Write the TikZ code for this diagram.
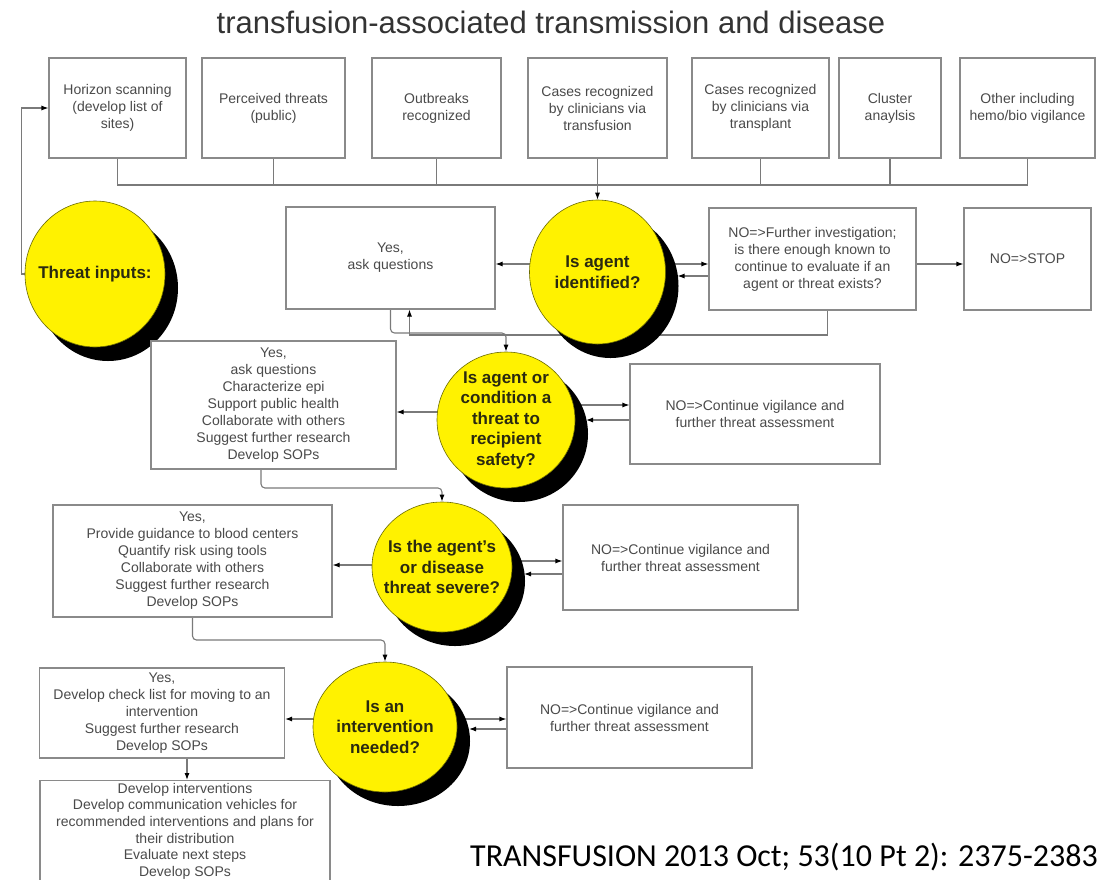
\documentclass[tikz,border=0pt]{standalone}
\usepackage{fontspec}
\setmainfont{Liberation Sans}
\newfontfamily\capfont{Carlito}
\usetikzlibrary{shapes.geometric,shadows,arrows.meta}
\pgfdeclarelayer{back}
\pgfdeclarelayer{bg}
\pgfsetlayers{back,bg,main}
\definecolor{boxline}{HTML}{8A8A8A}
\definecolor{boxtext}{HTML}{4A4A4A}
\definecolor{conline}{HTML}{7A7A7A}
\definecolor{decfill}{HTML}{FFF200}
\definecolor{dectext}{HTML}{2A2A10}
\definecolor{decline}{HTML}{6B6B00}
\definecolor{titletext}{HTML}{333333}
\begin{document}
\begin{tikzpicture}[x=1pt,y=-1pt,
  box/.style={draw=boxline, line width=1.1pt, fill=white, text=boxtext, align=center,
    font=\fontsize{14}{17}\selectfont, inner sep=0pt},
  dec/.style={ellipse, draw=decline, line width=0.6pt, fill=decfill, inner sep=0pt,
    drop shadow={shadow xshift=13pt, shadow yshift=-14pt, fill=black, opacity=1}},
  dectxt/.style={text=dectext, align=center, inner sep=0pt,
    font=\bfseries\fontsize{17}{20.5}\selectfont},
  conn/.style={draw=conline, line width=1.1pt},
  arr/.style={conn, -{Latex[length=7pt,width=5pt,color=black]}}
]
\useasboundingbox (0,0) rectangle (1102,879);
\begin{pgfonlayer}{back}
\fill[white] (0,0) rectangle (1102,879);
\end{pgfonlayer}

% title and caption
\node (title) [font=\fontsize{31}{36}\selectfont, text=titletext] at (551,22) {transfusion-associated transmission and disease};
\node (cap) [font=\capfont\fontsize{32}{38}\selectfont, anchor=base west, inner sep=0pt] at (470,866) {TRANSFUSION 2013 Oct; 53(10 Pt 2): 2375-2383};

% top row of inputs
\node (h1) [box, minimum width=137, minimum height=100] at (117.5,108) {Horizon scanning\\(develop list of\\sites)};
\node (h2) [box, minimum width=143, minimum height=100] at (273.5,108) {Perceived threats\\(public)};
\node (h3) [box, minimum width=129, minimum height=100] at (436.5,108) {Outbreaks\\recognized};
\node (h4) [box, minimum width=139, minimum height=100] at (597.5,108) {Cases recognized\\by clinicians via\\transfusion};
\node (h5) [box, minimum width=137, minimum height=100] at (760.5,108) {Cases recognized\\by clinicians via\\transplant};
\node (h6) [box, minimum width=102, minimum height=100] at (890,108) {Cluster\\anaylsis};
\node (h7) [box, minimum width=135, minimum height=100] at (1027.5,108) {Other including\\hemo/bio vigilance};

% decision circles (shape) and their labels
\node (thr) [dec, minimum width=140, minimum height=146] at (95,274) {};
\node (thrt) [dectxt] at (thr) {Threat inputs:};
\node (c1) [dec, minimum width=136, minimum height=144] at (597.5,272) {};
\node (c1t) [dectxt] at (c1) {Is agent\\identified?};
\node (c2) [dec, minimum width=138, minimum height=136] at (506,420) {};
\node (c2t) [dectxt] at (c2) {Is agent or\\condition a\\threat to\\recipient\\safety?};
\node (c3) [dec, minimum width=140, minimum height=130] at (442,567) {};
\node (c3t) [dectxt] at (c3) {Is the agent's\\or disease\\threat severe?};
\node (c4) [dec, minimum width=144, minimum height=130] at (385,727) {};
\node (c4t) [dectxt] at (c4) {Is an\\intervention\\needed?};

% row 1
\node (y1) [box, minimum width=209, minimum height=102] at (390.5,258) {Yes,\\ask questions};
\node (no1) [box, minimum width=207, minimum height=102] at (812.5,259) {NO=>Further investigation;\\is there enough known to\\continue to evaluate if an\\agent or threat exists?};
\node (stop) [box, minimum width=127, minimum height=102] at (1027.5,259) {NO=>STOP};

% row 2
\node (y2) [box, minimum width=245, minimum height=128] at (273.5,405) {Yes,\\ask questions\\Characterize epi\\Support public health\\Collaborate with others\\Suggest further research\\Develop SOPs};
\node (no2) [box, minimum width=250, minimum height=100] at (755,414) {NO=>Continue vigilance and\\further threat assessment};

% row 3
\node (y3) [box, minimum width=279, minimum height=112] at (192.5,561) {Yes,\\Provide guidance to blood centers\\Quantify risk using tools\\Collaborate with others\\Suggest further research\\Develop SOPs};
\node (no3) [box, minimum width=235, minimum height=105] at (680.5,557.5) {NO=>Continue vigilance and\\further threat assessment};

% row 4
\node (y4) [box, minimum width=245, minimum height=90] at (162,713) {Yes,\\Develop check list for moving to an\\intervention\\Suggest further research\\Develop SOPs};
\node (no4) [box, minimum width=245, minimum height=101] at (629.5,717.5) {NO=>Continue vigilance and\\further threat assessment};

% bottom box
\node (bot) [box, minimum width=290, minimum height=120, anchor=north] at (185,780) {};
\node (bottxt) [text=boxtext, align=center, font=\fontsize{14}{16.6}\selectfont, anchor=north, inner sep=0pt] at (185,783) {Develop interventions\\Develop communication vehicles for\\recommended interventions and plans for\\their distribution\\Evaluate next steps\\Develop SOPs};

\begin{pgfonlayer}{bg}
% bus from the inputs
\draw[conn] (h1.south) -- (h1.south |- 0,185) -| (h7.south);
\foreach \n in {h2,h3,h5,h6} \draw[conn] (\n.south) -- (\n.south |- 0,185);
\draw[arr] (h4.south) -- (c1.north);
% feedback to horizon scanning
\draw[arr] (thr.west) -- ++(-3,0) |- (h1.west);
% row 1
\draw[arr] (c1.center |- 0,264) -- (y1.east |- 0,264);
\draw[arr] (c1.center |- 0,264) -- (no1.west |- 0,264);
\draw[arr] (no1.west |- 0,276) -- ([xshift=80pt,yshift=-4pt]c1.center);
\draw[arr] (no1.east |- 0,264) -- (stop.west |- 0,264);
\draw[arr] ([xshift=15pt]no1.south) |- ([xshift=19pt]y1.south |- 0,335) -- ([xshift=19pt]y1.south);
\draw[arr, rounded corners=4pt] (y1.south) |- (c2.north |- 0,333) -- (c2.north);
% row 2
\draw[arr] (c2.center |- 0,412) -- (y2.east |- 0,412);
\draw[arr] (c2.center |- 0,405) -- (no2.west |- 0,405);
\draw[arr] (no2.west |- 0,420) -- ([xshift=80pt]c2.center);
\draw[arr, rounded corners=4pt] ([xshift=-12.5pt]y2.south) |- (c3.north |- 0,488) -- (c3.north);
% row 3
\draw[arr] (c3.center |- 0,565) -- (y3.east |- 0,565);
\draw[arr] (c3.center |- 0,561) -- (no3.west |- 0,561);
\draw[arr] (no3.west |- 0,574) -- ([xshift=82pt,yshift=-7pt]c3.center);
\draw[arr, rounded corners=4pt] (y3.south) |- (c4.north |- 0,640) -- (c4.north);
% row 4
\draw[arr] (c4.center |- 0,719) -- (y4.east |- 0,719);
\draw[arr] (c4.center |- 0,719) -- (no4.west |- 0,719);
\draw[arr] (no4.west |- 0,729) -- ([xshift=84pt,yshift=-2pt]c4.center);
\draw[arr] ([xshift=25pt]y4.south) -- ([xshift=25pt]y4.south |- bot.north);
\end{pgfonlayer}
\end{tikzpicture}
\end{document}
